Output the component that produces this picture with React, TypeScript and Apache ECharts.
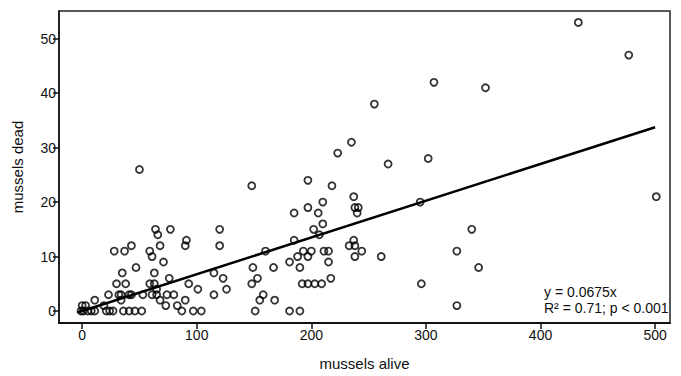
import React, { useEffect, useRef } from "react";
import * as echarts from "echarts";

const alive = [
  433, 477, 307, 352, 255, 267, 302, 501, 295, 340, 261, 327, 346, 296, 327,
  235, 223, 148, 197, 218, 210, 237, 238, 241, 240, 185, 197, 206, 210, 202, 207, 185,
  160, 193, 200, 211, 215, 233, 237, 238, 244, 238, 188, 197, 181, 215, 190, 167, 149,
  192, 197, 203, 209, 217, 153, 148, 158, 155, 168, 151, 181, 190,
  50, 64, 66, 77, 120, 91, 90, 120, 28, 37, 43, 59, 61, 68, 71, 47, 35, 63, 115, 123, 76,
  30, 38, 59, 63, 93, 65, 101, 126,
  23, 32, 34, 41, 43, 53, 61, 65, 74, 80, 115,
  34, 68, 90, 11,
  0, 3, 19, 73, 83,
  -1, 1, 5, 8, 11, 21, 24, 27, 36, 41, 46, 52, 87, 97, 104,
];
const dead = [
  53, 47, 42, 41, 38, 27, 28, 21, 20, 15, 10, 11, 8, 5, 1,
  31, 29, 23, 24, 23, 20, 21, 19, 19, 18, 18, 19, 18, 16, 15, 14, 13,
  11, 11, 11, 11, 11, 12, 13, 12, 11, 10, 10, 10, 9, 9, 8, 8, 8,
  5, 5, 5, 5, 6, 6, 5, 3, 2, 2, 0, 0, 0,
  26, 15, 14, 15, 15, 13, 12, 12, 11, 11, 12, 11, 10, 12, 9, 8, 7, 7, 7, 6, 6,
  5, 5, 5, 5, 5, 4, 4, 4,
  3, 3, 3, 3, 3, 3, 3, 3, 3, 3, 3,
  2, 2, 2, 2,
  1, 1, 1, 1, 1,
  0, 0, 0, 0, 0, 0, 0, 0, 0, 0, 0, 0, 0, 0, 0,
];

const fitX = [-4, 500];
const fitY = [-0.27, 33.75];

const xTicks = [0, 100, 200, 300, 400, 500];
const yTicks = [0, 10, 20, 30, 40, 50];

const eqText = "y = 0.0675x";
const statText = "R² = 0.71; p < 0.001";

export default function App() {
  const ref = useRef<HTMLDivElement>(null);
  useEffect(() => {
    if (!ref.current) return;
    const chart = echarts.init(ref.current, undefined, { renderer: "svg" });
    const font = "'Liberation Sans', Arial, sans-serif";
    const points = alive.map((a, i) => [a, dead[i]]);
    const fit = fitX.map((x, i) => [x, fitY[i]]);
    chart.setOption({
      animation: false,
      backgroundColor: "#fff",
      textStyle: { fontFamily: font },
      grid: {
        left: 59,
        top: 11,
        right: 11,
        bottom: 49,
        show: true,
        borderColor: "#222",
        borderWidth: 1.5,
        containLabel: false,
      },
      xAxis: {
        type: "value",
        min: -20.2,
        max: 513,
        name: "mussels alive",
        nameLocation: "middle",
        nameGap: 33,
        nameTextStyle: { fontSize: 15, color: "#111", fontFamily: font },
        axisLine: { show: true, onZero: false, lineStyle: { color: "#111", width: 2 } },
        axisTick: { show: true, length: 6, customValues: xTicks, lineStyle: { color: "#111", width: 1.5 } },
        axisLabel: { customValues: xTicks, fontSize: 14, color: "#111", margin: 5, fontFamily: font },
        splitLine: { show: false },
      },
      yAxis: {
        type: "value",
        min: -2.2,
        max: 55.1,
        name: "mussels dead",
        nameLocation: "middle",
        nameGap: 34,
        nameTextStyle: { fontSize: 15, color: "#111", fontFamily: font },
        axisLine: { show: true, onZero: false, lineStyle: { color: "#111", width: 1.5 } },
        axisTick: { show: true, length: 6, customValues: yTicks, lineStyle: { color: "#111", width: 1.5 } },
        axisLabel: { customValues: yTicks, fontSize: 14, color: "#111", margin: 3, fontFamily: font },
        splitLine: { show: false },
      },
      series: [
        {
          type: "scatter",
          data: points,
          symbol: "circle",
          symbolSize: 7,
          itemStyle: { color: "rgba(0,0,0,0)", borderColor: "#000", borderWidth: 1.8 },
          z: 2,
        },
        {
          type: "line",
          data: fit,
          showSymbol: false,
          symbol: "none",
          lineStyle: { color: "#000", width: 2.5 },
          z: 3,
        },
      ],
      graphic: [
        {
          type: "text",
          left: 544,
          top: 285,
          style: { text: eqText, fontSize: 14, fill: "#111", fontFamily: font },
        },
        {
          type: "text",
          left: 544,
          top: 301,
          style: { text: statText, fontSize: 14, fill: "#111", fontFamily: font },
        },
      ],
    });
    return () => chart.dispose();
  }, []);
  return <div ref={ref} style={{ width: 681, height: 376, position: "absolute", left: 0, top: 0 }} />;
}
